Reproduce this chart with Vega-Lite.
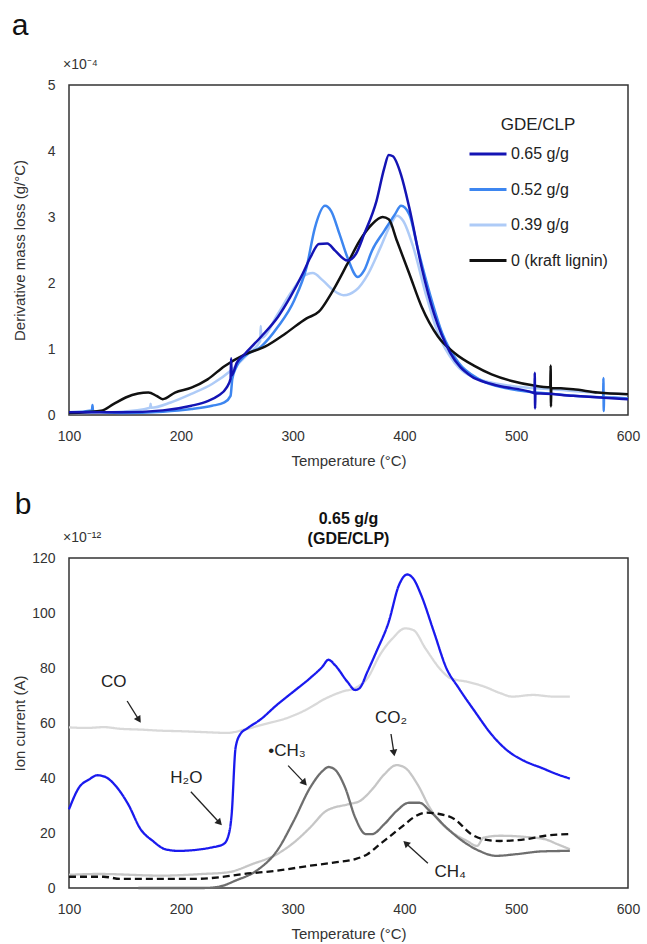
{
 "$schema": "https://vega.github.io/schema/vega-lite/v6.json",
 "padding": {"left": 10, "top": 10, "right": 5, "bottom": 0},
 "config": {
  "font": "Liberation Sans",
  "view": {"stroke": "#333333", "strokeWidth": 1.5},
  "axis": {"grid": false, "ticks": false, "domain": false, "labelFlush": false, "labelFont": "Liberation Sans", "labelFontSize": 14, "labelColor": "#333333", "titleFont": "Liberation Sans", "titleFontSize": 15, "titleFontWeight": "normal", "titleColor": "#333333", "labelPadding": 14},
  "concat": {"spacing": 20}
 },
 "datasets": {
  "tga": [
   {"s":"0.39 g/g","T":100,"v":0.03},{"s":"0.39 g/g","T":147,"v":0.05},{"s":"0.39 g/g","T":172.5,"v":0.11},{"s":"0.39 g/g","T":173,"v":0.17},{"s":"0.39 g/g","T":173.5,"v":0.11},{"s":"0.39 g/g","T":191,"v":0.19},{"s":"0.39 g/g","T":209.5,"v":0.32},{"s":"0.39 g/g","T":228,"v":0.47},{"s":"0.39 g/g","T":246,"v":0.69},{"s":"0.39 g/g","T":261,"v":0.94},{"s":"0.39 g/g","T":271,"v":1.12},{"s":"0.39 g/g","T":271.5,"v":1.35},{"s":"0.39 g/g","T":272,"v":1.17},{"s":"0.39 g/g","T":287,"v":1.54},{"s":"0.39 g/g","T":298,"v":1.84},{"s":"0.39 g/g","T":309,"v":2.09},{"s":"0.39 g/g","T":318,"v":2.15},{"s":"0.39 g/g","T":327,"v":2.04},{"s":"0.39 g/g","T":336.4,"v":1.89},{"s":"0.39 g/g","T":345.6,"v":1.815},{"s":"0.39 g/g","T":356.6,"v":1.89},{"s":"0.39 g/g","T":367.6,"v":2.14},{"s":"0.39 g/g","T":378.6,"v":2.54},{"s":"0.39 g/g","T":387.8,"v":2.89},{"s":"0.39 g/g","T":393.3,"v":3.02},{"s":"0.39 g/g","T":399,"v":2.94},{"s":"0.39 g/g","T":408,"v":2.54},{"s":"0.39 g/g","T":419,"v":1.84},{"s":"0.39 g/g","T":430,"v":1.24},{"s":"0.39 g/g","T":444.8,"v":0.79},{"s":"0.39 g/g","T":463,"v":0.565},{"s":"0.39 g/g","T":496,"v":0.44},{"s":"0.39 g/g","T":533,"v":0.39},{"s":"0.39 g/g","T":570,"v":0.34},{"s":"0.39 g/g","T":600,"v":0.315},
   {"s":"0.52 g/g","T":100,"v":0.04},{"s":"0.52 g/g","T":120.5,"v":0.07},{"s":"0.52 g/g","T":121,"v":0.15},{"s":"0.52 g/g","T":121.5,"v":0.06},{"s":"0.52 g/g","T":147,"v":0.03},{"s":"0.52 g/g","T":184,"v":0.05},{"s":"0.52 g/g","T":209.5,"v":0.09},{"s":"0.52 g/g","T":228,"v":0.14},{"s":"0.52 g/g","T":239,"v":0.19},{"s":"0.52 g/g","T":244.5,"v":0.29},{"s":"0.52 g/g","T":245.5,"v":0.45},{"s":"0.52 g/g","T":246,"v":0.54},{"s":"0.52 g/g","T":250,"v":0.74},{"s":"0.52 g/g","T":257,"v":0.89},{"s":"0.52 g/g","T":272,"v":1.04},{"s":"0.52 g/g","T":287,"v":1.34},{"s":"0.52 g/g","T":301.5,"v":1.74},{"s":"0.52 g/g","T":312.5,"v":2.24},{"s":"0.52 g/g","T":320,"v":2.84},{"s":"0.52 g/g","T":329,"v":3.17},{"s":"0.52 g/g","T":334.5,"v":3.09},{"s":"0.52 g/g","T":342,"v":2.74},{"s":"0.52 g/g","T":349,"v":2.39},{"s":"0.52 g/g","T":358.4,"v":2.09},{"s":"0.52 g/g","T":364,"v":2.19},{"s":"0.52 g/g","T":371,"v":2.49},{"s":"0.52 g/g","T":382,"v":2.79},{"s":"0.52 g/g","T":391.5,"v":3.04},{"s":"0.52 g/g","T":397,"v":3.17},{"s":"0.52 g/g","T":404.4,"v":3.04},{"s":"0.52 g/g","T":411.7,"v":2.54},{"s":"0.52 g/g","T":422.7,"v":1.84},{"s":"0.52 g/g","T":433.8,"v":1.24},{"s":"0.52 g/g","T":448.5,"v":0.79},{"s":"0.52 g/g","T":467,"v":0.54},{"s":"0.52 g/g","T":496,"v":0.39},{"s":"0.52 g/g","T":533,"v":0.32},{"s":"0.52 g/g","T":577.8,"v":0.27},{"s":"0.52 g/g","T":578,"v":0.56},{"s":"0.52 g/g","T":578.3,"v":0.06},{"s":"0.52 g/g","T":578.6,"v":0.27},{"s":"0.52 g/g","T":600,"v":0.25},
   {"s":"0 (kraft lignin)","T":100,"v":0.03},{"s":"0 (kraft lignin)","T":128.7,"v":0.065},{"s":"0 (kraft lignin)","T":139.7,"v":0.165},{"s":"0 (kraft lignin)","T":150.7,"v":0.265},{"s":"0 (kraft lignin)","T":161.8,"v":0.325},{"s":"0 (kraft lignin)","T":171,"v":0.34},{"s":"0 (kraft lignin)","T":178.3,"v":0.29},{"s":"0 (kraft lignin)","T":183.8,"v":0.24},{"s":"0 (kraft lignin)","T":194.8,"v":0.34},{"s":"0 (kraft lignin)","T":209.5,"v":0.415},{"s":"0 (kraft lignin)","T":224,"v":0.54},{"s":"0 (kraft lignin)","T":239,"v":0.74},{"s":"0 (kraft lignin)","T":257,"v":0.915},{"s":"0 (kraft lignin)","T":275.7,"v":1.04},{"s":"0 (kraft lignin)","T":294,"v":1.24},{"s":"0 (kraft lignin)","T":312.5,"v":1.465},{"s":"0 (kraft lignin)","T":323.5,"v":1.565},{"s":"0 (kraft lignin)","T":334.5,"v":1.84},{"s":"0 (kraft lignin)","T":349,"v":2.29},{"s":"0 (kraft lignin)","T":360,"v":2.64},{"s":"0 (kraft lignin)","T":371,"v":2.89},{"s":"0 (kraft lignin)","T":380.5,"v":3.0},{"s":"0 (kraft lignin)","T":386,"v":2.965},{"s":"0 (kraft lignin)","T":393.3,"v":2.64},{"s":"0 (kraft lignin)","T":404.4,"v":2.14},{"s":"0 (kraft lignin)","T":415.4,"v":1.64},{"s":"0 (kraft lignin)","T":430,"v":1.19},{"s":"0 (kraft lignin)","T":444.8,"v":0.94},{"s":"0 (kraft lignin)","T":463,"v":0.74},{"s":"0 (kraft lignin)","T":478,"v":0.615},{"s":"0 (kraft lignin)","T":496,"v":0.515},{"s":"0 (kraft lignin)","T":514.7,"v":0.45},{"s":"0 (kraft lignin)","T":530.5,"v":0.42},{"s":"0 (kraft lignin)","T":530.8,"v":0.75},{"s":"0 (kraft lignin)","T":531.1,"v":0.13},{"s":"0 (kraft lignin)","T":531.4,"v":0.41},{"s":"0 (kraft lignin)","T":551,"v":0.39},{"s":"0 (kraft lignin)","T":573,"v":0.34},{"s":"0 (kraft lignin)","T":600,"v":0.315},
   {"s":"0.65 g/g","T":100,"v":0.04},{"s":"0.65 g/g","T":147,"v":0.04},{"s":"0.65 g/g","T":184,"v":0.07},{"s":"0.65 g/g","T":209.5,"v":0.14},{"s":"0.65 g/g","T":224,"v":0.21},{"s":"0.65 g/g","T":233.4,"v":0.29},{"s":"0.65 g/g","T":240.8,"v":0.41},{"s":"0.65 g/g","T":244.5,"v":0.55},{"s":"0.65 g/g","T":245,"v":0.86},{"s":"0.65 g/g","T":245.5,"v":0.6},{"s":"0.65 g/g","T":250,"v":0.79},{"s":"0.65 g/g","T":257,"v":0.92},{"s":"0.65 g/g","T":272,"v":1.19},{"s":"0.65 g/g","T":287,"v":1.49},{"s":"0.65 g/g","T":298,"v":1.79},{"s":"0.65 g/g","T":309,"v":2.14},{"s":"0.65 g/g","T":316,"v":2.39},{"s":"0.65 g/g","T":323.5,"v":2.59},{"s":"0.65 g/g","T":331,"v":2.6},{"s":"0.65 g/g","T":338,"v":2.49},{"s":"0.65 g/g","T":349,"v":2.34},{"s":"0.65 g/g","T":356.6,"v":2.44},{"s":"0.65 g/g","T":364,"v":2.74},{"s":"0.65 g/g","T":375,"v":3.24},{"s":"0.65 g/g","T":382,"v":3.74},{"s":"0.65 g/g","T":386,"v":3.94},{"s":"0.65 g/g","T":389.7,"v":3.92},{"s":"0.65 g/g","T":397,"v":3.64},{"s":"0.65 g/g","T":404.4,"v":3.14},{"s":"0.65 g/g","T":415.4,"v":2.24},{"s":"0.65 g/g","T":426.4,"v":1.54},{"s":"0.65 g/g","T":441,"v":0.94},{"s":"0.65 g/g","T":459.5,"v":0.59},{"s":"0.65 g/g","T":478,"v":0.47},{"s":"0.65 g/g","T":514.7,"v":0.34},{"s":"0.65 g/g","T":516.4,"v":0.33},{"s":"0.65 g/g","T":516.6,"v":0.64},{"s":"0.65 g/g","T":516.9,"v":0.1},{"s":"0.65 g/g","T":517.2,"v":0.33},{"s":"0.65 g/g","T":551,"v":0.29},{"s":"0.65 g/g","T":600,"v":0.24}
  ],
  "ms": [
   {"g":"CO","T":100,"v":58.4},{"g":"CO","T":116,"v":58.2},{"g":"CO","T":131,"v":58.5},{"g":"CO","T":146,"v":57.9},{"g":"CO","T":164,"v":57.6},{"g":"CO","T":182.7,"v":57.2},{"g":"CO","T":201,"v":57},{"g":"CO","T":219.6,"v":56.7},{"g":"CO","T":242,"v":56.4},{"g":"CO","T":256.6,"v":57.6},{"g":"CO","T":275,"v":59.6},{"g":"CO","T":293.5,"v":61.6},{"g":"CO","T":312,"v":64.8},{"g":"CO","T":330,"v":69},{"g":"CO","T":345,"v":71.5},{"g":"CO","T":356,"v":72.7},{"g":"CO","T":367,"v":76.3},{"g":"CO","T":378,"v":84.7},{"g":"CO","T":389.5,"v":90.8},{"g":"CO","T":400.6,"v":94.4},{"g":"CO","T":408,"v":93.8},{"g":"CO","T":419,"v":87},{"g":"CO","T":434,"v":78.7},{"g":"CO","T":441,"v":76.3},{"g":"CO","T":456,"v":75},{"g":"CO","T":471,"v":73.3},{"g":"CO","T":485.5,"v":70.9},{"g":"CO","T":496.6,"v":69.6},{"g":"CO","T":515,"v":70.2},{"g":"CO","T":533.6,"v":69.6},{"g":"CO","T":548,"v":69.6},
   {"g":"CO2","T":100,"v":4.8},{"g":"CO2","T":127,"v":5.1},{"g":"CO2","T":182.7,"v":4.5},{"g":"CO2","T":219.6,"v":5.1},{"g":"CO2","T":242,"v":5.7},{"g":"CO2","T":264,"v":8.7},{"g":"CO2","T":286,"v":12.3},{"g":"CO2","T":301,"v":16.5},{"g":"CO2","T":315.7,"v":22},{"g":"CO2","T":330,"v":28},{"g":"CO2","T":349,"v":30.4},{"g":"CO2","T":360,"v":31.6},{"g":"CO2","T":371,"v":35.8},{"g":"CO2","T":382,"v":41.3},{"g":"CO2","T":393,"v":44.7},{"g":"CO2","T":400.6,"v":43.7},{"g":"CO2","T":411.7,"v":37.7},{"g":"CO2","T":422.7,"v":29.2},{"g":"CO2","T":433.8,"v":23.2},{"g":"CO2","T":444.9,"v":19.6},{"g":"CO2","T":456,"v":17.1},{"g":"CO2","T":465,"v":15.3},{"g":"CO2","T":470.8,"v":18.3},{"g":"CO2","T":485.5,"v":19},{"g":"CO2","T":507.7,"v":18.6},{"g":"CO2","T":526,"v":17.7},{"g":"CO2","T":537,"v":15.9},{"g":"CO2","T":548,"v":14.1},
   {"g":"CH3","T":162,"v":0},{"g":"CH3","T":219.6,"v":0},{"g":"CH3","T":234.4,"v":0.5},{"g":"CH3","T":249,"v":2.7},{"g":"CH3","T":267.7,"v":6.3},{"g":"CH3","T":286,"v":13.5},{"g":"CH3","T":301,"v":24.4},{"g":"CH3","T":315.7,"v":36.5},{"g":"CH3","T":326.7,"v":42.5},{"g":"CH3","T":332.3,"v":44},{"g":"CH3","T":338,"v":43},{"g":"CH3","T":347,"v":36.5},{"g":"CH3","T":356,"v":25.6},{"g":"CH3","T":365.5,"v":19.6},{"g":"CH3","T":371,"v":19.6},{"g":"CH3","T":382,"v":23.2},{"g":"CH3","T":393,"v":28},{"g":"CH3","T":404,"v":31},{"g":"CH3","T":413.5,"v":31},{"g":"CH3","T":422.7,"v":28},{"g":"CH3","T":437.5,"v":22},{"g":"CH3","T":452,"v":17.1},{"g":"CH3","T":467,"v":13.5},{"g":"CH3","T":482,"v":11.7},{"g":"CH3","T":500,"v":12.3},{"g":"CH3","T":522.5,"v":13.3},{"g":"CH3","T":548,"v":13.5},
   {"g":"CH4","T":100,"v":4.1},{"g":"CH4","T":131,"v":4.1},{"g":"CH4","T":146,"v":3.3},{"g":"CH4","T":164,"v":3.3},{"g":"CH4","T":182.7,"v":3.3},{"g":"CH4","T":212,"v":3.3},{"g":"CH4","T":234.4,"v":3.9},{"g":"CH4","T":256.6,"v":5.1},{"g":"CH4","T":286,"v":6.3},{"g":"CH4","T":315.7,"v":8.1},{"g":"CH4","T":338,"v":9.3},{"g":"CH4","T":356,"v":10.5},{"g":"CH4","T":367,"v":12.3},{"g":"CH4","T":378,"v":15.9},{"g":"CH4","T":389.5,"v":19.6},{"g":"CH4","T":400.6,"v":23.2},{"g":"CH4","T":408,"v":25.6},{"g":"CH4","T":419,"v":27.4},{"g":"CH4","T":430,"v":27},{"g":"CH4","T":445,"v":25},{"g":"CH4","T":459.7,"v":19.6},{"g":"CH4","T":470.8,"v":17.7},{"g":"CH4","T":485.5,"v":17.1},{"g":"CH4","T":507.7,"v":17.7},{"g":"CH4","T":526,"v":19},{"g":"CH4","T":548,"v":19.6},
   {"g":"H2O","T":100,"v":28.6},{"g":"H2O","T":108.9,"v":36.5},{"g":"H2O","T":118,"v":39.5},{"g":"H2O","T":125.5,"v":41},{"g":"H2O","T":133,"v":40.3},{"g":"H2O","T":142,"v":37},{"g":"H2O","T":153,"v":30.4},{"g":"H2O","T":164,"v":21.4},{"g":"H2O","T":175,"v":17.1},{"g":"H2O","T":186,"v":14.1},{"g":"H2O","T":197.5,"v":13.5},{"g":"H2O","T":212,"v":13.8},{"g":"H2O","T":227,"v":14.7},{"g":"H2O","T":238,"v":15.9},{"g":"H2O","T":242,"v":18.3},{"g":"H2O","T":245.5,"v":26.8},{"g":"H2O","T":249,"v":51},{"g":"H2O","T":253,"v":55.8},{"g":"H2O","T":260,"v":58.2},{"g":"H2O","T":271,"v":61.2},{"g":"H2O","T":286,"v":66.6},{"g":"H2O","T":301,"v":71.5},{"g":"H2O","T":315.6,"v":76.3},{"g":"H2O","T":326.7,"v":80.5},{"g":"H2O","T":332,"v":83},{"g":"H2O","T":338,"v":81},{"g":"H2O","T":349,"v":75},{"g":"H2O","T":356,"v":72},{"g":"H2O","T":360,"v":72.7},{"g":"H2O","T":367,"v":78.7},{"g":"H2O","T":375,"v":86},{"g":"H2O","T":386,"v":96.8},{"g":"H2O","T":395,"v":110},{"g":"H2O","T":402.5,"v":114},{"g":"H2O","T":408,"v":112.5},{"g":"H2O","T":415,"v":106.5},{"g":"H2O","T":426.5,"v":93},{"g":"H2O","T":437.5,"v":80},{"g":"H2O","T":448.6,"v":72.7},{"g":"H2O","T":463,"v":64.2},{"g":"H2O","T":478,"v":55.8},{"g":"H2O","T":493,"v":49.7},{"g":"H2O","T":507.7,"v":46.1},{"g":"H2O","T":522.5,"v":43.7},{"g":"H2O","T":537,"v":41.3},{"g":"H2O","T":548,"v":39.8}
  ],
  "notes": [
   {"id":"co","label":"CO","tx":140,"ty":75,"x1":152,"y1":68,"x2":162,"y2":61.5},
   {"id":"h2o","label":"H₂O","tx":205,"ty":40,"x1":209,"y1":35,"x2":234,"y2":24},
   {"id":"ch3","label":"•CH₃","tx":295,"ty":50,"x1":296,"y1":44.5,"x2":310,"y2":38.5},
   {"id":"co2","label":"CO₂","tx":388,"ty":62,"x1":388,"y1":56,"x2":390.5,"y2":49.5},
   {"id":"ch4","label":"CH₄","tx":441,"ty":6,"x1":421,"y1":9,"x2":402,"y2":16}
  ]
 },
 "vconcat": [
  {
   "width": 559, "height": 330,
   "layer": [
    {
     "data": {"name": "tga"},
     "mark": {"type": "line", "strokeWidth": 2.5, "interpolate": "monotone"},
     "encoding": {
      "x": {"field": "T", "type": "quantitative", "scale": {"domain": [100, 600], "nice": false}, "axis": {"values": [100, 200, 300, 400, 500, 600], "title": "Temperature (°C)", "titlePadding": 10}},
      "y": {"field": "v", "type": "quantitative", "scale": {"domain": [0, 5], "nice": false}, "axis": {"values": [0, 1, 2, 3, 4, 5], "format": "d", "title": "Derivative mass loss (g/°C)", "titlePadding": 20}},
      "color": {"field": "s", "type": "nominal",
       "scale": {"domain": ["0.65 g/g", "0.52 g/g", "0.39 g/g", "0 (kraft lignin)"], "range": ["#1414b4", "#3d86f0", "#aecbf7", "#111111"]},
       "legend": {"orient": "none", "legendX": 399, "legendY": 32, "title": "GDE/CLP", "titleFont": "Liberation Sans", "titleFontSize": 17, "titleFontWeight": "normal", "titleColor": "#222222", "titleAnchor": "middle", "titlePadding": 0, "labelFont": "Liberation Sans", "labelFontSize": 16, "labelColor": "#222222", "labelOffset": 3, "symbolType": "stroke", "symbolSize": 1369, "symbolStrokeWidth": 3, "rowPadding": 7.5}
      }
     }
    },
    {
     "data": {"values": [{}]},
     "mark": {"type": "text", "align": "left", "baseline": "middle", "fontSize": 14, "color": "#333333", "dx": -6, "dy": -20},
     "encoding": {"x": {"datum": 100}, "y": {"datum": 5}, "text": {"value": "×10⁻⁴"}}
    },
    {
     "data": {"values": [{}]},
     "mark": {"type": "text", "align": "center", "baseline": "middle", "fontSize": 30, "color": "#111111", "dx": -49, "dy": -59},
     "encoding": {"x": {"datum": 100}, "y": {"datum": 5}, "text": {"value": "a"}}
    }
   ]
  },
  {
   "width": 559, "height": 330,
   "layer": [
    {
     "data": {"name": "ms"},
     "mark": {"type": "line", "strokeWidth": 2.3, "interpolate": "monotone"},
     "encoding": {
      "x": {"field": "T", "type": "quantitative", "scale": {"domain": [100, 600], "nice": false}, "axis": {"values": [100, 200, 300, 400, 500, 600], "title": "Temperature (°C)", "titlePadding": 10}},
      "y": {"field": "v", "type": "quantitative", "scale": {"domain": [0, 120], "nice": false}, "axis": {"values": [0, 20, 40, 60, 80, 100, 120], "title": "Ion current (A)", "titlePadding": 4}},
      "color": {"field": "g", "type": "nominal", "legend": null, "scale": {"domain": ["CO", "CO2", "CH3", "CH4", "H2O"], "range": ["#d9d9d9", "#c6c6c6", "#6e6e6e", "#111111", "#1a1aee"]}},
      "strokeDash": {"field": "g", "type": "nominal", "legend": null, "scale": {"domain": ["CO", "CO2", "CH3", "CH4", "H2O"], "range": [[1, 0], [1, 0], [1, 0], [7, 4], [1, 0]]}}
     }
    },
    {
     "data": {"name": "notes"},
     "mark": {"type": "rule", "color": "#222222", "strokeWidth": 1.3},
     "encoding": {"x": {"field": "x1", "type": "quantitative"}, "y": {"field": "y1", "type": "quantitative"}, "x2": {"field": "x2"}, "y2": {"field": "y2"}}
    },
    {
     "data": {"name": "notes"},
     "mark": {"type": "text", "fontSize": 17, "color": "#222222", "align": "center", "baseline": "middle"},
     "encoding": {"x": {"field": "tx", "type": "quantitative"}, "y": {"field": "ty", "type": "quantitative"}, "text": {"field": "label"}}
    },
    {"data": {"name": "notes"}, "transform": [{"filter": "datum.id == 'co'"}], "mark": {"type": "point", "shape": "triangle", "filled": true, "size": 60, "angle": 147, "color": "#222222", "opacity": 1}, "encoding": {"x": {"field": "x2", "type": "quantitative"}, "y": {"field": "y2", "type": "quantitative"}}},
    {"data": {"name": "notes"}, "transform": [{"filter": "datum.id == 'h2o'"}], "mark": {"type": "point", "shape": "triangle", "filled": true, "size": 60, "angle": 137, "color": "#222222", "opacity": 1}, "encoding": {"x": {"field": "x2", "type": "quantitative"}, "y": {"field": "y2", "type": "quantitative"}}},
    {"data": {"name": "notes"}, "transform": [{"filter": "datum.id == 'ch3'"}], "mark": {"type": "point", "shape": "triangle", "filled": true, "size": 60, "angle": 138, "color": "#222222", "opacity": 1}, "encoding": {"x": {"field": "x2", "type": "quantitative"}, "y": {"field": "y2", "type": "quantitative"}}},
    {"data": {"name": "notes"}, "transform": [{"filter": "datum.id == 'co2'"}], "mark": {"type": "point", "shape": "triangle", "filled": true, "size": 60, "angle": 171, "color": "#222222", "opacity": 1}, "encoding": {"x": {"field": "x2", "type": "quantitative"}, "y": {"field": "y2", "type": "quantitative"}}},
    {"data": {"name": "notes"}, "transform": [{"filter": "datum.id == 'ch4'"}], "mark": {"type": "point", "shape": "triangle", "filled": true, "size": 60, "angle": 313, "color": "#222222", "opacity": 1}, "encoding": {"x": {"field": "x2", "type": "quantitative"}, "y": {"field": "y2", "type": "quantitative"}}},
    {
     "data": {"values": [{}]},
     "mark": {"type": "text", "align": "left", "baseline": "middle", "fontSize": 14, "color": "#333333", "dx": -6, "dy": -20},
     "encoding": {"x": {"datum": 100}, "y": {"datum": 120}, "text": {"value": "×10⁻¹²"}}
    },
    {
     "data": {"values": [{}]},
     "mark": {"type": "text", "align": "center", "baseline": "middle", "fontSize": 30, "color": "#111111", "dx": -46, "dy": -53},
     "encoding": {"x": {"datum": 100}, "y": {"datum": 120}, "text": {"value": "b"}}
    },
    {
     "data": {"values": [{}]},
     "mark": {"type": "text", "align": "center", "baseline": "middle", "fontSize": 16, "fontWeight": "bold", "color": "#111111", "dy": -39},
     "encoding": {"x": {"datum": 350}, "y": {"datum": 120}, "text": {"value": "0.65 g/g"}}
    },
    {
     "data": {"values": [{}]},
     "mark": {"type": "text", "align": "center", "baseline": "middle", "fontSize": 16, "fontWeight": "bold", "color": "#111111", "dy": -19},
     "encoding": {"x": {"datum": 350}, "y": {"datum": 120}, "text": {"value": "(GDE/CLP)"}}
    }
   ]
  }
 ],
 "resolve": {"scale": {"color": "independent", "strokeDash": "independent", "y": "independent", "x": "independent"}}
}
